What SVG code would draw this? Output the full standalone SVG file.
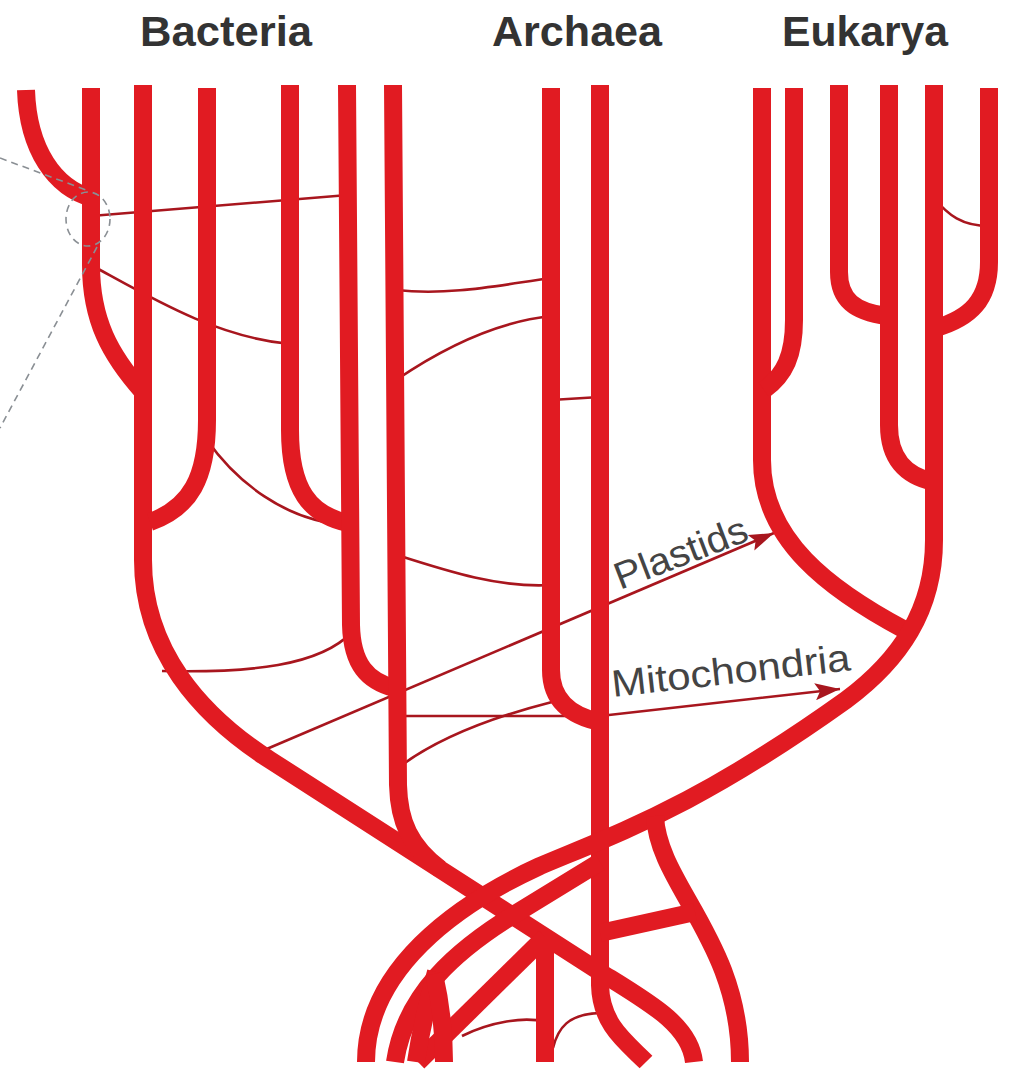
<svg xmlns="http://www.w3.org/2000/svg" width="1009" height="1074" viewBox="0 0 1009 1074">
<defs>
<style>
.b{fill:none;stroke:#e11b22;stroke-width:18;stroke-linecap:butt;stroke-linejoin:round}
.t{fill:none;stroke:#a8161e;stroke-width:2.6}
.d{fill:none;stroke:#8a8f94;stroke-width:1.6;stroke-dasharray:7 5}
.h{font-family:"Liberation Sans",Arial,sans-serif;font-weight:bold;font-size:43px;fill:#333}
.l{font-family:"Liberation Sans",Arial,sans-serif;font-size:38px;fill:#444}
</style>
<marker id="ah" markerUnits="userSpaceOnUse" viewBox="0 0 25 17" refX="25" refY="8.5" markerWidth="25" markerHeight="17" orient="auto">
<path d="M0,0 L25,8.5 L0,17 L5,8.5 z" fill="#a8161e"/>
</marker>
</defs>
<rect width="1009" height="1074" fill="#fff"/>

<g id="connectors">
<path class="t" d="M91,216 L348,195"/>
<path class="t" d="M91,265 C150,297 215,337 290,344"/>
<path class="t" d="M207,440 C235,480 285,522 348,525"/>
<path class="t" d="M162,671 C250,673 320,666 352,632"/>
<path class="t" d="M262,751 L774,533" marker-end="url(#ah)"/>
<path class="t" d="M396,290 C450,296 500,285 551,278"/>
<path class="t" d="M396,380 C440,350 495,322 551,316"/>
<path class="t" d="M551,400 L600,397"/>
<path class="t" d="M397,555 C450,572 500,588 551,585"/>
<path class="t" d="M397,716 L600,716 L840,689" marker-end="url(#ah)"/>
<path class="t" d="M398,768 Q450,728 552,702"/>
<path class="t" d="M934,198 C948,215 962,226 989,226"/>
<path class="t" d="M462,1036 C490,1022 525,1016 545,1022"/>
<path class="t" d="M553,1048 C558,1028 568,1014 600,1013"/>
</g>

<g id="bacteria">
<path class="b" d="M26,90 C28,150 55,188 92,198"/>
<path class="b" d="M91,88 L91,265 C91,320 110,355 143,392"/>
<path class="b" d="M143,85 L143,560 C143,650 200,715 270,760 L600,972 C650,1003 690,1025 694,1062"/>
<path class="b" d="M207,88 L207,420 C207,478 190,508 150,522"/>
<path class="b" d="M290,85 L290,430 C290,490 310,515 348,523"/>
<path class="b" d="M347,85 L351,625 C352,665 368,681 394,688"/>
<path class="b" d="M393,85 L398,785 C399,822 410,846 440,869"/>
</g>

<g id="archaea">
<path class="b" d="M551,88 L551,670 C551,700 570,716 600,722"/>
<path class="b" d="M600,85 L600,985 C601,1025 626,1042 646,1062"/>
</g>

<g id="eukarya">
<path class="b" d="M762,88 L762,460 C762,540 830,590 905,630"/>
<path class="b" d="M794,88 L794,320 C794,355 785,375 764,390"/>
<path class="b" d="M839,85 L839,272 C839,300 855,312 887,316"/>
<path class="b" d="M889,85 L889,425 C889,458 905,476 934,482"/>
<path class="b" d="M989,88 L989,262 C989,300 970,318 936,328"/>
<path class="b" d="M934,85 L934,540 C934,610 900,660 846,700 C790,740 740,772 687,800 C630,830 590,845 540,866 C455,905 366,970 366,1062"/>
</g>

<g id="root">
<path class="b" d="M655,816 C658,885 740,940 740,1062"/>
<path class="b" d="M600,933 L695,912"/>
<path class="b" d="M600,862 L520,911 C455,950 405,995 395,1062"/>
<path class="b" d="M545,937 L418,1062"/>
<path class="b" d="M545,937 L545,1062"/>
<path class="b" d="M436,972 C428,1000 420,1035 416,1062"/>
<path class="b" d="M434,974 C440,1000 444,1030 444,1062"/>
</g>

<g id="callout">
<path class="d" d="M0,158 L86,190"/>
<ellipse class="d" cx="88" cy="219" rx="22" ry="27"/>
<path class="d" d="M97,247 L0,428"/>
</g>

<g id="labels">
<text class="h" x="140" y="46" textLength="172" lengthAdjust="spacingAndGlyphs">Bacteria</text>
<text class="h" x="492" y="46" textLength="170" lengthAdjust="spacingAndGlyphs">Archaea</text>
<text class="h" x="782" y="46" textLength="166" lengthAdjust="spacingAndGlyphs">Eukarya</text>
<text class="l" x="620" y="590" transform="rotate(-21 620 590)" textLength="140" lengthAdjust="spacingAndGlyphs">Plastids</text>
<text class="l" x="613" y="697" transform="rotate(-6.4 613 697)" textLength="240" lengthAdjust="spacingAndGlyphs">Mitochondria</text>
</g>
</svg>
